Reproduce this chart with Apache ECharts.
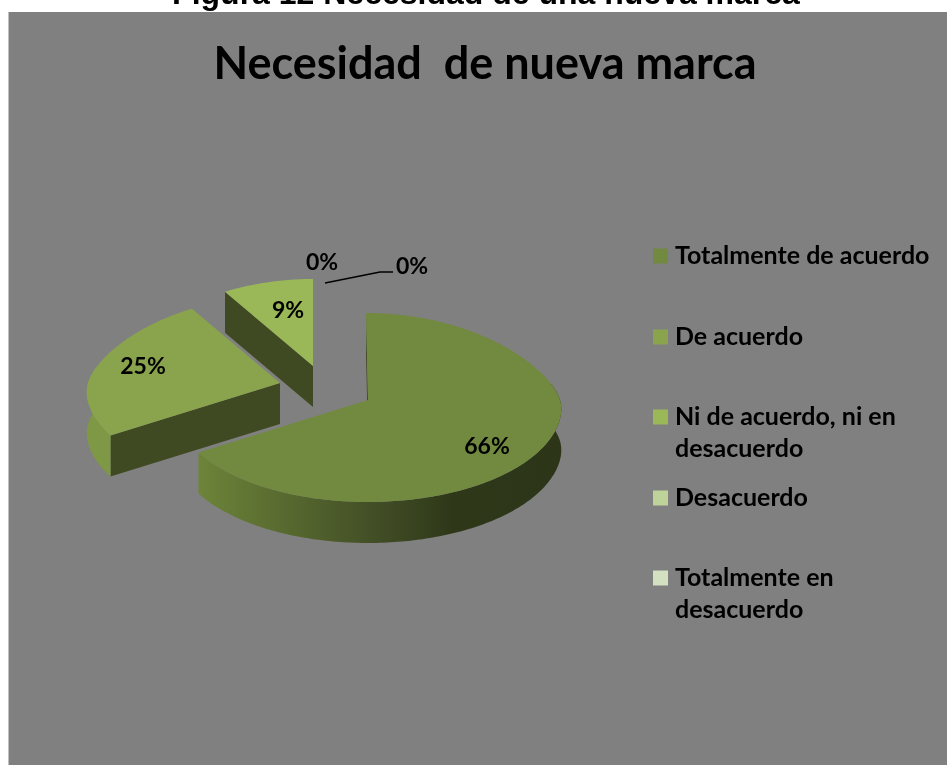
<!DOCTYPE html>
<html lang="es">
<head>
<meta charset="utf-8">
<title>Necesidad de nueva marca</title>
<script src="https://cdn.jsdelivr.net/npm/echarts@6/dist/echarts.min.js"></script>
<style>
  html, body { margin: 0; padding: 0; background: #fff; overflow: hidden; }
  #chart { width: 947px; height: 765px; }
</style>
</head>
<body>
<div id="chart"></div>
<script>
// Survey answers, in percent
const categories = [
  'Totalmente de acuerdo',
  'De acuerdo',
  'Ni de acuerdo, ni en desacuerdo',
  'Desacuerdo',
  'Totalmente en desacuerdo'
];
const values = [66, 25, 9, 0, 0];

// Legend text with its line breaks
const legendLines = [
  'Totalmente de acuerdo',
  'De acuerdo',
  'Ni de acuerdo, ni en\ndesacuerdo',
  'Desacuerdo',
  'Totalmente en\ndesacuerdo'
];
const legendRowCentres = [256, 337, 417, 498, 578];

const captionText = 'Figura 12 Necesidad de una nueva marca';
const titleText = 'Necesidad  de nueva marca';

const topColours = ['#728a3f', '#8aa44e', '#9ab858', '#bdd39a', '#d3e0c2'];
const sideColour = '#3f4a22';
const rimColours = [
  new echarts.graphic.LinearGradient(0, 0, 1, 0, [
    { offset: 0, color: '#6d8439' },
    { offset: 0.35, color: '#4e5d2b' },
    { offset: 0.5, color: '#414d25' },
    { offset: 0.7, color: '#2e3819' },
    { offset: 1, color: '#2c3518' }
  ]),
  '#7e9845', '#3f4a22', '#3f4a22', '#3f4a22'
];

// Pie geometry: a disc seen in perspective, with a rim below it
const pie = { cx: 367, cy: 400, rx: 192, ry: 93.9, persp: 0.0794, depth: 41 };
// The rim only shows on the near part of the disc (angles clockwise from the top, in degrees)
const rimRange = [80, 280];

// Per-slice pull-out, lean and label placement, in pixels
const sliceLayout = [
  { dx: 1, dy: 0, lean: 2, label: [487, 447] },
  { dx: -87, dy: -17, lean: 0, label: [143, 367] },
  { dx: -54, dy: -34, lean: 0, label: [288, 311] },
  { dx: 0, dy: 0, lean: 0, label: [322, 263] },
  { dx: 0, dy: 0, lean: 0, label: [412, 267], leader: [[325, 283], [380, 272], [393, 272]] }
];

const labelFont = 'bold 23px Lato, "Open Sans", sans-serif';
const total = values.reduce((a, b) => a + b, 0);
const toRad = Math.PI / 180;

// Maps an angle (clockwise from the top) and a radius in 0..1 onto the tilted disc
function project(angle, radius, layout) {
  const u = Math.sin(angle) * radius;
  const v = -Math.cos(angle) * radius;
  const kx = 0.14 - 0.06 * Math.tanh(v * 4);
  const x = pie.cx + pie.rx * u / (1 - kx * v) + (v < 0 ? layout.lean * v : 0);
  const y = pie.cy + pie.ry * v / (1 - pie.persp * v);
  return [x + layout.dx, y + layout.dy];
}

function arcPoints(from, to, layout) {
  const steps = Math.max(2, Math.ceil((to - from) / toRad));
  const points = [];
  for (let i = 0; i <= steps; i++) {
    points.push(project(from + (to - from) * i / steps, 1, layout));
  }
  return points;
}

const lowered = (points) => points.map(p => [p[0], p[1] + pie.depth]);

function renderSlice(index) {
  return function (params, api) {
    const value = api.value(0);
    const layout = sliceLayout[index];
    const before = values.slice(0, index).reduce((a, b) => a + b, 0);
    const from = before / total * Math.PI * 2;
    const to = (before + value) / total * Math.PI * 2;
    const children = [];

    if (value > 0) {
      const apex = project(0, 0, layout);
      const arc = arcPoints(from, to, layout);
      const edge = arc[0];
      // Cut face on the leading edge of the slice
      children.push({
        type: 'polygon',
        shape: { points: [apex, edge, [edge[0], edge[1] + pie.depth], [apex[0], apex[1] + pie.depth]] },
        style: { fill: sideColour }
      });
      // Outer rim
      const rimFrom = Math.max(from, rimRange[0] * toRad);
      const rimTo = Math.min(to, rimRange[1] * toRad);
      if (rimTo > rimFrom) {
        const rim = arcPoints(rimFrom, rimTo, layout);
        children.push({
          type: 'polygon',
          shape: { points: rim.concat(lowered(rim).reverse()) },
          style: { fill: rimColours[index] }
        });
      }
      // Top face
      children.push({
        type: 'polygon',
        shape: { points: [apex].concat(arc) },
        style: { fill: topColours[index] }
      });
    }

    if (layout.leader) {
      children.push({
        type: 'polyline',
        shape: { points: layout.leader },
        style: { fill: null, stroke: '#000', lineWidth: 1.5 }
      });
    }

    children.push({
      type: 'text',
      style: {
        text: value + '%',
        x: layout.label[0],
        y: layout.label[1],
        align: 'center',
        verticalAlign: 'middle',
        font: labelFont,
        fill: '#000'
      }
    });
    return { type: 'group', children };
  };
}

const rowHeight = 32;
const legends = categories.map((name, i) => {
  const twoLines = legendLines[i].indexOf('\n') >= 0;
  return {
    data: [name],
    orient: 'vertical',
    left: 653,
    top: legendRowCentres[i] - rowHeight / 2,
    padding: 0,
    selectedMode: false,
    itemWidth: 15,
    itemHeight: twoLines ? rowHeight * 2 : 15,
    itemGap: 0,
    // Two-line entries keep their swatch beside the first line
    icon: twoLines ? 'path://M0 0M0 8.5H15V23.5H0ZM15 64' : 'rect',
    formatter: () => legendLines[i],
    textStyle: {
      color: '#000',
      fontFamily: 'Lato',
      fontWeight: 'bold',
      fontSize: 25,
      lineHeight: rowHeight,
      padding: [0, 0, 0, 2]
    }
  };
});

const chart = echarts.init(document.getElementById('chart'), null, { renderer: 'canvas' });
chart.setOption({
  animation: false,
  backgroundColor: '#ffffff',
  graphic: [{
    type: 'rect',
    z: -10,
    silent: true,
    shape: { x: 8.5, y: 12, width: 939, height: 753 },
    style: { fill: '#808080' }
  }],
  title: [
    {
      text: captionText,
      left: 486,
      textAlign: 'center',
      top: -23,
      padding: 0,
      textStyle: { fontFamily: '"Liberation Sans"', fontWeight: 'bold', fontSize: 32, color: '#000', lineHeight: 36 }
    },
    {
      text: titleText,
      left: 485,
      textAlign: 'center',
      top: 36,
      padding: 0,
      textStyle: { fontFamily: 'Lato', fontWeight: 'bold', fontSize: 45, color: '#000', lineHeight: 56 }
    }
  ],
  legend: legends,
  tooltip: { show: false },
  series: categories.map((name, i) => ({
    type: 'custom',
    name,
    coordinateSystem: 'none',
    silent: true,
    itemStyle: { color: topColours[i] },
    data: [[values[i]]],
    renderItem: renderSlice(i)
  }))
});
</script>
</body>
</html>
